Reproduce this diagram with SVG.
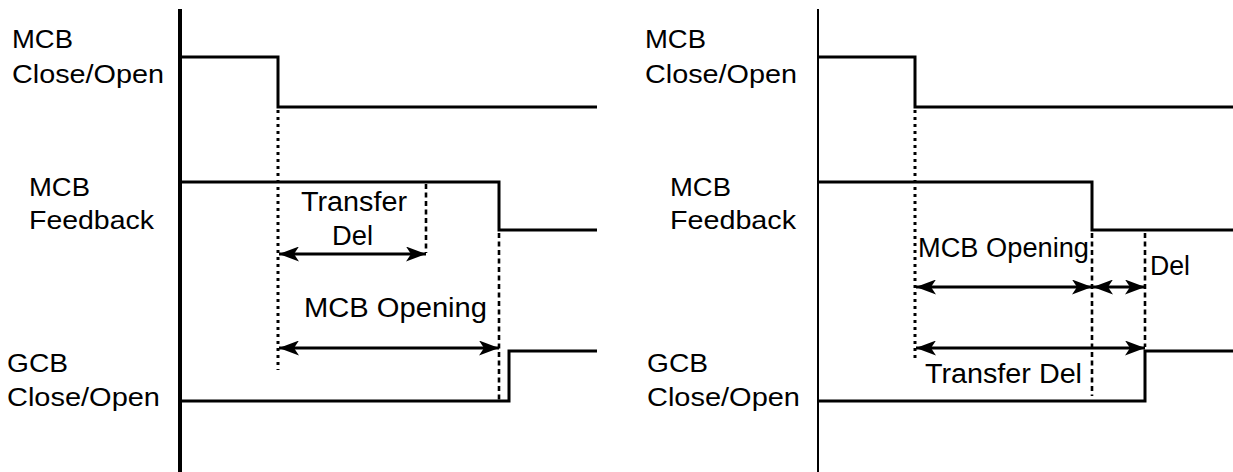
<svg xmlns="http://www.w3.org/2000/svg" width="1233" height="472" viewBox="0 0 1233 472">
<style>
text{font-family:"Liberation Sans",Arial,sans-serif;font-size:26px;fill:#000}
.ann{font-size:27px}
.sig{fill:none;stroke:#000;stroke-width:3;stroke-linejoin:miter}
.axL{stroke:#000;stroke-width:4}
.axR{stroke:#000;stroke-width:2}
.dot{stroke:#000;stroke-width:3;stroke-dasharray:3 4;fill:none}
.dash{stroke:#000;stroke-width:2.6;stroke-dasharray:5 3.5;fill:none}
.arr{stroke:#000;stroke-width:3;fill:none;marker-start:url(#ah);marker-end:url(#ah)}
</style>
<defs>
<marker id="ah" viewBox="0 0 20 15" refX="20" refY="7.5" markerWidth="20" markerHeight="15" markerUnits="userSpaceOnUse" orient="auto-start-reverse">
<path d="M0,0 L20,7.5 L0,15 L5,7.5 Z" fill="#000"/>
</marker>
</defs>
<g id="left-diagram">
<g id="left-axis"><line class="axL" x1="180" y1="9" x2="180" y2="472"/></g>
<g id="left-mcb-close-open">
<text x="12" y="48" textLength="61" lengthAdjust="spacingAndGlyphs">MCB</text>
<text x="12" y="83" textLength="152" lengthAdjust="spacingAndGlyphs">Close/Open</text>
<polyline class="sig" points="181,57 278,57 278,107 597,107"/>
</g>
<g id="left-mcb-feedback">
<text x="29" y="196" textLength="61" lengthAdjust="spacingAndGlyphs">MCB</text>
<text x="29" y="229" textLength="125" lengthAdjust="spacingAndGlyphs">Feedback</text>
<polyline class="sig" points="181,182 499,182 499,230 597,230"/>
</g>
<g id="left-gcb-close-open">
<text x="7" y="372" textLength="61" lengthAdjust="spacingAndGlyphs">GCB</text>
<text x="7" y="405.5" textLength="153" lengthAdjust="spacingAndGlyphs">Close/Open</text>
<polyline class="sig" points="181,401 509,401 509,351 597,351"/>
</g>
<g id="left-transfer-del">
<text class="ann" x="301" y="210.5" textLength="106" lengthAdjust="spacingAndGlyphs">Transfer</text>
<text class="ann" x="332" y="245" textLength="41" lengthAdjust="spacingAndGlyphs">Del</text>
</g>
<g id="left-mcb-opening">
<text class="ann" x="304" y="317" textLength="183" lengthAdjust="spacingAndGlyphs">MCB Opening</text>
</g>
</g>
<g id="right-diagram">
<g id="right-axis"><line class="axR" x1="818" y1="9" x2="818" y2="472"/></g>
<g id="right-mcb-close-open">
<text x="645" y="48" textLength="61" lengthAdjust="spacingAndGlyphs">MCB</text>
<text x="645" y="83" textLength="152" lengthAdjust="spacingAndGlyphs">Close/Open</text>
<polyline class="sig" points="819,57 915,57 915,107 1233,107"/>
</g>
<g id="right-mcb-feedback">
<text x="670" y="196" textLength="61" lengthAdjust="spacingAndGlyphs">MCB</text>
<text x="670" y="229" textLength="126" lengthAdjust="spacingAndGlyphs">Feedback</text>
<polyline class="sig" points="819,182 1092,182 1092,230 1233,230"/>
</g>
<g id="right-gcb-close-open">
<text x="647" y="372" textLength="61" lengthAdjust="spacingAndGlyphs">GCB</text>
<text x="647" y="406" textLength="153" lengthAdjust="spacingAndGlyphs">Close/Open</text>
<polyline class="sig" points="819,401 1145,401 1145,351 1233,351"/>
</g>
<g id="right-mcb-opening">
<text class="ann" x="918" y="257" textLength="171" lengthAdjust="spacingAndGlyphs">MCB Opening</text>
</g>
<g id="right-del">
<text class="ann" x="1150" y="275" textLength="40" lengthAdjust="spacingAndGlyphs">Del</text>
</g>
<g id="right-transfer-del">
<text class="ann" x="925" y="383" textLength="157" lengthAdjust="spacingAndGlyphs">Transfer Del</text>
</g>
</g>
<g id="connectors">
<line class="dot" x1="278" y1="110" x2="278" y2="370"/>
<line class="dash" x1="426" y1="184" x2="426" y2="253"/>
<line class="dash" x1="499" y1="233" x2="499" y2="400"/>
<line class="arr" x1="279" y1="254" x2="426" y2="254"/>
<line class="arr" x1="279" y1="348" x2="499" y2="348"/>
<line class="dot" x1="915" y1="110" x2="915" y2="361"/>
<line class="dash" x1="1092" y1="233" x2="1092" y2="396"/>
<line class="dash" x1="1145" y1="233" x2="1145" y2="347"/>
<line class="arr" x1="916" y1="287" x2="1092" y2="287"/>
<line class="arr" x1="1093" y1="287" x2="1145" y2="287"/>
<line class="arr" x1="916" y1="348" x2="1145" y2="348"/>
</g>
</svg>
